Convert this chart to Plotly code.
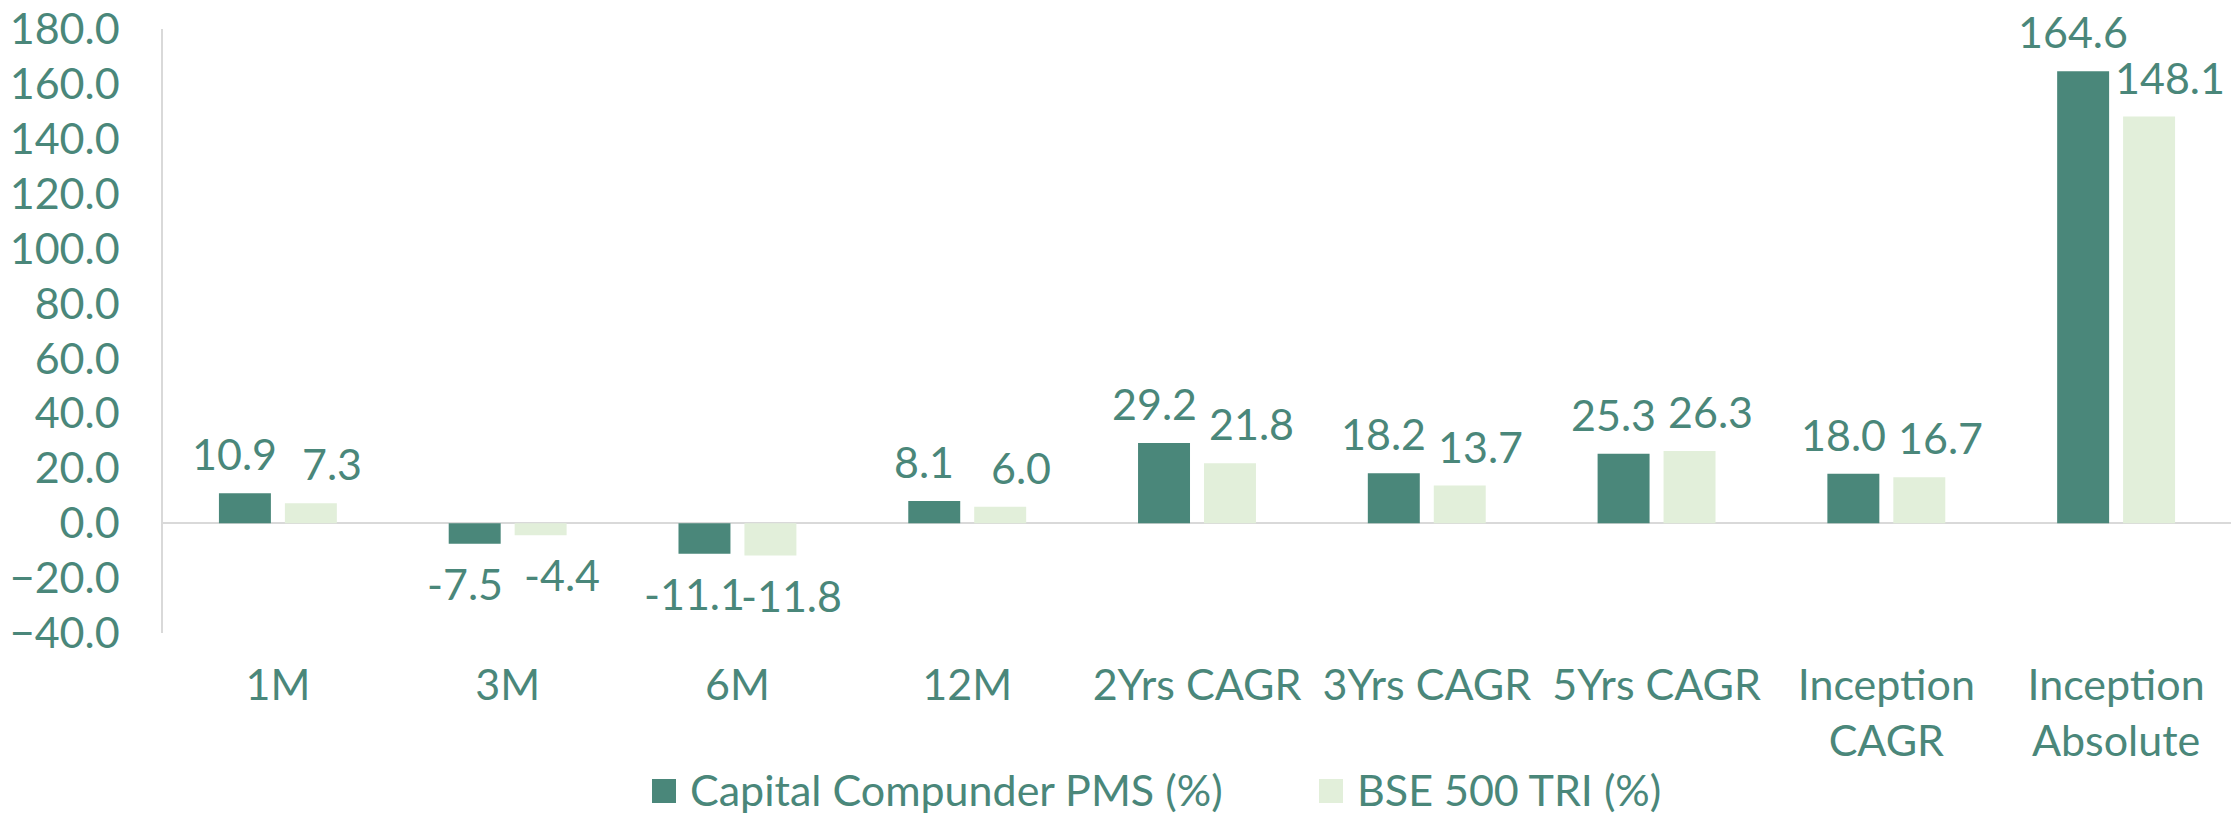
import plotly.graph_objects as go

categories = ["1M", "3M", "6M", "12M", "2Yrs CAGR", "3Yrs CAGR", "5Yrs CAGR",
              "Inception<br>CAGR", "Inception<br>Absolute"]
pms_values = [10.9, -7.5, -11.1, 8.1, 29.2, 18.2, 25.3, 18.0, 164.6]
bse_values = [7.3, -4.4, -11.8, 6.0, 21.8, 13.7, 26.3, 16.7, 148.1]
series_names = ["Capital Compunder PMS (%)", "BSE 500 TRI (%)"]
y_ticks = [-40, -20, 0, 20, 40, 60, 80, 100, 120, 140, 160, 180]

DARK = "#4A877A"
LIGHT = "#E2EFDA"
TEXT = "#4A877A"
FONT = "Lato"
FS = 43

# the html body has an 8px default margin; figure fills the window to its right/bottom edges
BODY = 8
W, H = 2239 - BODY, 814 - BODY
ML, MT = 163 - BODY, 29 - BODY
PW, PH = 2068, 604
MR = W - ML - PW
MB = H - MT - PH

fig = go.Figure()
fig.add_trace(go.Bar(x=categories, y=pms_values, name=series_names[0],
                     marker=dict(color=DARK, line=dict(width=0)), showlegend=False))
fig.add_trace(go.Bar(x=categories, y=bse_values, name=series_names[1],
                     marker=dict(color=LIGHT, line=dict(width=0)), showlegend=False))

annotations = []
for vals, xs in ((pms_values, -43), (bse_values, 54)):
    for c, v in zip(categories, vals):
        if v >= 0:
            annotations.append(dict(x=c, y=v, xref="x", yref="y", text=f"{v:.1f}",
                                    showarrow=False, xshift=xs, yshift=12,
                                    yanchor="bottom", xanchor="center",
                                    font=dict(family=FONT, size=FS, color=TEXT)))
        else:
            annotations.append(dict(x=c, y=v, xref="x", yref="y", text=f"{v:.1f}",
                                    showarrow=False, xshift=xs, yshift=-12,
                                    yanchor="top", xanchor="center",
                                    font=dict(family=FONT, size=FS, color=TEXT)))

# custom legend (large square swatches like the reference); page pixel -> paper
def px_to_paper_x(px):
    return (px - BODY - ML) / PW

def px_to_paper_y(py):
    return (MT + PH - (py - BODY)) / PH

shapes = []
legend_pos = [(652, 688), (1319, 1355)]
for (sq_x, tx), name, col in zip(legend_pos, series_names, [DARK, LIGHT]):
    shapes.append(dict(type="rect", xref="paper", yref="paper",
                       x0=px_to_paper_x(sq_x), x1=px_to_paper_x(sq_x + 24),
                       y0=px_to_paper_y(803), y1=px_to_paper_y(779),
                       fillcolor=col, line=dict(width=0)))
    annotations.append(dict(x=px_to_paper_x(tx), y=px_to_paper_y(789), xref="paper", yref="paper",
                            text=name, showarrow=False, xanchor="left", yanchor="middle",
                            font=dict(family=FONT, size=FS, color=TEXT)))

fig.update_layout(
    template="none",
    width=W, height=H, autosize=False,
    margin=dict(l=ML, r=MR, t=MT, b=MB, pad=0),
    paper_bgcolor="white", plot_bgcolor="white",
    barmode="group", bargap=0.426, bargroupgap=0.212,
    font=dict(family=FONT, size=FS, color=TEXT),
    annotations=annotations, shapes=shapes,
    xaxis=dict(showgrid=False, showline=False, zeroline=False, automargin=False,
               ticks="outside", ticklen=14, tickcolor="rgba(0,0,0,0)",
               tickfont=dict(family=FONT, size=FS, color=TEXT), tickangle=0),
    yaxis=dict(range=[-40, 180], tickvals=y_ticks, tickformat=".1f", automargin=False,
               ticklabeloverflow="allow",
               showgrid=False, showline=True, linecolor="#D9D9D9", linewidth=1.5,
               zeroline=True, zerolinecolor="#D9D9D9", zerolinewidth=2,
               ticks="outside", ticklen=33, tickcolor="rgba(0,0,0,0)",
               tickfont=dict(family=FONT, size=FS, color=TEXT)),
)

fig.write_html("out.html")
